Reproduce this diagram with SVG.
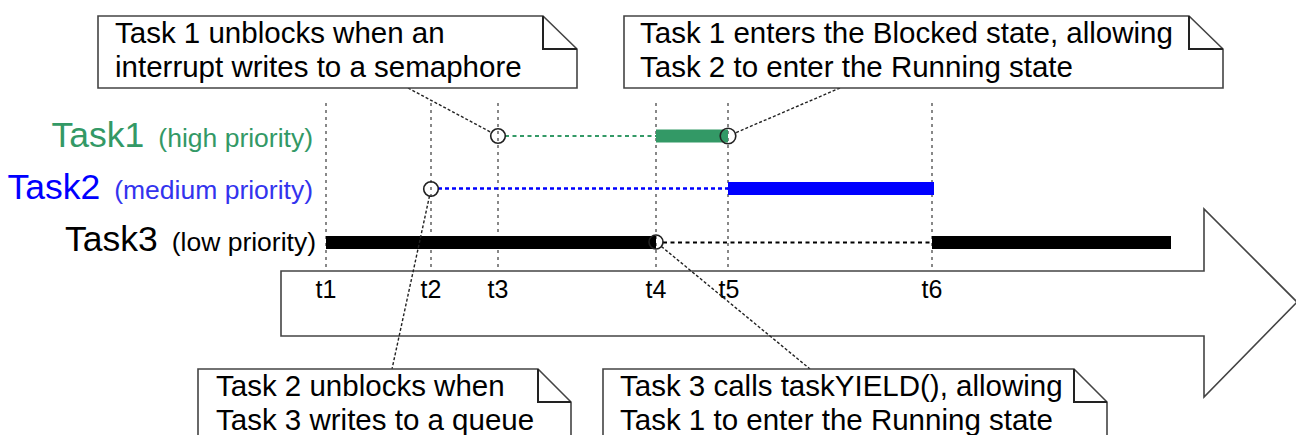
<svg xmlns="http://www.w3.org/2000/svg" width="1296" height="435" viewBox="0 0 1296 435">
<style>
text{font-family:"Liberation Sans",Arial,sans-serif}
.note{fill:#fff;stroke:#444;stroke-width:1.6}
.fold{fill:none;stroke:#222;stroke-width:2}
.nt{font-size:29.5px;fill:#000}
.grid{stroke:#888;stroke-width:2;stroke-dasharray:3 4}
.conn{stroke:#222;stroke-width:1.4;stroke-dasharray:3 2;fill:none}
.tl{font-size:25px;fill:#000;text-anchor:middle}
.ev{fill:none;stroke:#222;stroke-width:1.6}
.big{font-size:35.5px}
.small{font-size:26.5px}
</style>
<rect width="1296" height="435" fill="#fff"/>
<g id="timeline-arrow">
<polygon points="281,271 1204,271 1204,209 1297,302 1204,397 1204,336 281,336" fill="#fff" stroke="#444" stroke-width="1.6"/>
</g>
<g id="grid">
<line class="grid" x1="326" y1="103" x2="326" y2="270"/>
<line class="grid" x1="431" y1="103" x2="431" y2="270"/>
<line class="grid" x1="498" y1="103" x2="498" y2="270"/>
<line class="grid" x1="656" y1="103" x2="656" y2="270"/>
<line class="grid" x1="728" y1="103" x2="728" y2="270"/>
<line class="grid" x1="932" y1="103" x2="932" y2="270"/>
</g>
<g id="time-labels">
<text class="tl" x="326" y="298">t1</text>
<text class="tl" x="431" y="298">t2</text>
<text class="tl" x="498" y="298">t3</text>
<text class="tl" x="656" y="298">t4</text>
<text class="tl" x="729" y="298">t5</text>
<text class="tl" x="932" y="298">t6</text>
</g>
<g id="task1">
<text x="313" y="147" text-anchor="end" fill="#339966"><tspan class="big">Task1</tspan><tspan class="small" dx="14">(high priority)</tspan></text>
<line x1="505" y1="136" x2="656" y2="136" stroke="#339966" stroke-width="2" stroke-dasharray="4 3.5"/>
<rect x="656" y="129.5" width="72" height="13" fill="#339966"/>
</g>
<g id="task2">
<text x="313" y="199" text-anchor="end" fill="#0000ff"><tspan class="big">Task2</tspan><tspan class="small" dx="14" fill="#3333ee">(medium priority)</tspan></text>
<line x1="438" y1="188.5" x2="728" y2="188.5" stroke="#0000ff" stroke-width="2.5" stroke-dasharray="4 3"/>
<rect x="728" y="182" width="206" height="13" fill="#0000ff"/>
</g>
<g id="task3">
<text x="316" y="251" text-anchor="end" fill="#000"><tspan class="big">Task3</tspan><tspan class="small" dx="14">(low priority)</tspan></text>
<rect x="326" y="236" width="330" height="13" fill="#000"/>
<line x1="663" y1="242.5" x2="932" y2="242.5" stroke="#000" stroke-width="2" stroke-dasharray="4 3.5"/>
<rect x="932" y="236" width="239" height="13" fill="#000"/>
</g>
<g id="events">
<circle class="ev" cx="498" cy="136" r="7.3"/>
<circle class="ev" cx="728" cy="136" r="7.8"/>
<circle class="ev" cx="431" cy="189" r="7.3"/>
<circle class="ev" cx="656" cy="242" r="7"/>
</g>
<g id="connectors">
<line class="conn" x1="408" y1="88" x2="491.8" y2="132.7"/>
<line class="conn" x1="840" y1="88" x2="734.6" y2="133.2"/>
<line class="conn" x1="429.5" y1="196" x2="392" y2="369"/>
<line class="conn" x1="661.4" y1="246.5" x2="810" y2="369"/>
</g>
<g id="note1">
<polygon class="note" points="98,16 543,16 577,49 577,88 98,88"/>
<polyline class="fold" points="543,16 543,49 577,49"/>
<text class="nt" x="115" y="43">Task 1 unblocks when an</text>
<text class="nt" x="115" y="77">interrupt writes to a semaphore</text>
</g>
<g id="note2">
<polygon class="note" points="624,16 1189,16 1223,49 1223,88 624,88"/>
<polyline class="fold" points="1189,16 1189,49 1223,49"/>
<text class="nt" x="640" y="43">Task 1 enters the Blocked state, allowing</text>
<text class="nt" x="640" y="77">Task 2 to enter the Running state</text>
</g>
<g id="note3">
<polygon class="note" points="198,369 538,369 571,402 571,445 198,445"/>
<polyline class="fold" points="538,369 538,402 571,402"/>
<text class="nt" x="216" y="396">Task 2 unblocks when</text>
<text class="nt" x="216" y="430">Task 3 writes to a queue</text>
</g>
<g id="note4">
<polygon class="note" points="603,369 1074,369 1107,402 1107,445 603,445"/>
<polyline class="fold" points="1074,369 1074,402 1107,402"/>
<text class="nt" x="620" y="396">Task 3 calls taskYIELD(), allowing</text>
<text class="nt" x="620" y="430">Task 1 to enter the Running state</text>
</g>
</svg>
